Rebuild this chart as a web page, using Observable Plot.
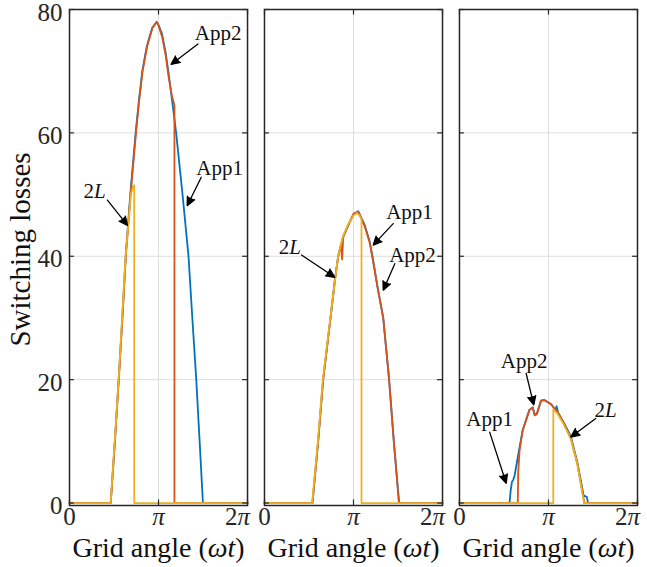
<!DOCTYPE html>
<html>
<head>
<meta charset="utf-8">
<script src="https://cdn.jsdelivr.net/npm/d3@7"></script>
<script src="https://cdn.jsdelivr.net/npm/@observablehq/plot@0.6"></script>
<style>
  html, body { margin: 0; padding: 0; background: #fff; }
  #chart { width: 647px; height: 567px; }
</style>
</head>
<body>
<div id="chart"></div>
<script>
// ---- categories / tick labels ----
const panels = [1, 2, 3];
const seriesNames = ["App1", "App2", "2L"];
const seriesColors = ["#0072BD", "#D95319", "#EDB120"];
const xTickValues = [0, 1, 2];          // grid angle in multiples of π
const xTickLabels = ["0", "π", "2π"];
const yTickValues = [0, 20, 40, 60, 80];
const yGridValues = [20, 40, 60];
const xAxisLabel = "Grid angle (ωt)";
const yAxisLabel = "Switching losses";

// ---- series values: [angle / π, switching losses] ----
const app1Panel1 = [[0,0],[0.463,0],[0.51,10],[0.552,20],[0.593,30],[0.631,40],[0.683,50],[0.743,60],[0.778,65],[0.818,70],[0.868,74],[0.928,77],[0.98,78],[1.0,77.5],[1.04,76],[1.08,73],[1.11,70],[1.155,65],[1.198,60],[1.27,50],[1.337,40],[1.38,30],[1.424,20],[1.462,10],[1.499,0],[2,0]];
const app2Panel1 = [[0,0],[0.463,0],[0.51,10],[0.554,20],[0.595,30],[0.633,40],[0.686,50],[0.747,60],[0.781,65],[0.821,70],[0.872,74],[0.932,77],[0.98,78],[1.0,77.4],[1.04,75.6],[1.08,72.6],[1.11,69.4],[1.15,66],[1.179,64.5],[1.179,0],[2,0]];
const l2Panel1   = [[0,0],[0.462,0],[0.508,10],[0.552,20],[0.63,40],[0.69,50],[0.716,51.5],[0.727,51.5],[0.727,0],[2,0]];

const app1Panel2 = [[0,0],[0.539,0],[0.603,10],[0.659,20],[0.742,30],[0.79,36],[0.828,40],[0.865,42],[0.88,43],[0.94,45],[1.0,46.8],[1.053,47.3],[1.08,46.5],[1.127,45],[1.18,42.5],[1.213,40],[1.27,35],[1.334,30],[1.40,20],[1.453,10],[1.513,0],[2,0]];
const app2Panel2 = [[0,0],[0.539,0],[0.603,10],[0.659,20],[0.742,30],[0.79,36],[0.828,40],[0.86,42],[0.872,39.5],[0.885,43.2],[0.94,45],[1.0,46.9],[1.053,47.2],[1.08,46.4],[1.127,44.8],[1.18,42.3],[1.213,39.8],[1.27,35],[1.334,30],[1.40,20],[1.453,10],[1.51,0],[2,0]];
const l2Panel2   = [[0,0],[0.535,0],[0.60,10],[0.655,20],[0.74,30],[0.826,40],[0.88,43.2],[0.94,45.2],[1.0,46.6],[1.04,47],[1.07,46.6],[1.09,46],[1.09,0],[2,0]];

const app1Panel3 = [[0,0],[0.562,0],[0.575,2],[0.589,3.4],[0.605,3.8],[0.62,4.5],[0.656,7.5],[0.71,11.8],[0.786,15.1],[0.823,15.5],[0.845,14.3],[0.87,14.5],[0.916,16.6],[0.953,16.7],[1.03,16.0],[1.08,15.0],[1.09,15.7],[1.11,14.6],[1.177,12.9],[1.251,10.8],[1.326,6.5],[1.395,1.2],[1.43,1.0],[1.445,0],[2,0]];
const app2Panel3 = [[0,0],[0.655,0],[0.66,5],[0.675,8.5],[0.71,11.8],[0.786,15.1],[0.823,15.5],[0.845,14.2],[0.87,14.4],[0.916,16.6],[0.953,16.7],[1.03,16.0],[1.10,14.8],[1.177,12.8],[1.251,10.5],[1.326,6.2],[1.40,0.3],[1.40,0],[2,0]];
const l2Panel3   = [[0,0],[1.054,0],[1.054,15.2],[1.10,14.5],[1.177,12.6],[1.251,10.4],[1.326,6.2],[1.40,0],[2,0]];

// ---- annotations ----
const annotPanel  = [1, 1, 1, 2, 2, 2, 3, 3, 3];
const annotLabels = ["App2", "App1", "2L", "App1", "App2", "2L", "App2", "App1", "2L"];
const annotTextX  = [1.669, 1.687, 0.282, 1.629, 1.663, 0.284, 0.726, 0.339, 1.642];
const annotTextY  = [76.2, 54.3, 50.5, 47.1, 40.2, 41.5, 22.9, 13.6, 15.1];
const arrowFromX  = [1.443, 1.480, 0.426, 1.446, 1.464, 0.416, 0.749, 0.339, 1.531];
const arrowFromY  = [74.4, 52.8, 49.1, 45.3, 38.8, 40.2, 21.0, 11.5, 13.7];
const arrowToX    = [1.141, 1.322, 0.652, 1.221, 1.334, 0.790, 0.835, 0.525, 1.251];
const arrowToY    = [71.1, 48.2, 45.0, 41.8, 34.5, 36.6, 15.9, 3.2, 10.7];

// ---- build tables ----
const seriesByPanel = [
  [app1Panel1, app2Panel1, l2Panel1],
  [app1Panel2, app2Panel2, l2Panel2],
  [app1Panel3, app2Panel3, l2Panel3]
];
const rows = [];
seriesByPanel.forEach((list, pi) => {
  list.forEach((pts, si) => {
    pts.forEach(([x, y]) => rows.push({panel: panels[pi], series: seriesNames[si], x, y}));
  });
});
const annots = annotLabels.map((label, i) => ({
  panel: annotPanel[i], label,
  tx: annotTextX[i], ty: annotTextY[i],
  x1: arrowFromX[i], y1: arrowFromY[i], x2: arrowToX[i], y2: arrowToY[i]
}));

const frameColor = "#262626";
const gridColor = "#dedede";

const chart = Plot.plot({
  width: 647,
  height: 567,
  marginLeft: 69,
  marginRight: 10,
  marginTop: 9,
  marginBottom: 62,
  style: {fontFamily: "'Liberation Serif', 'DejaVu Serif', serif", background: "#fff", color: frameColor},
  fx: {domain: panels, paddingInner: 0.087, paddingOuter: 0, round: false, axis: null, label: null},
  x: {domain: [0, 2]},
  y: {domain: [-0.4, 80]},
  color: {domain: seriesNames, range: seriesColors},
  marks: [
    Plot.gridY(yGridValues, {stroke: gridColor, strokeOpacity: 1, strokeWidth: 1}),
    Plot.gridX([1], {stroke: gridColor, strokeOpacity: 1, strokeWidth: 1}),
    Plot.line(rows, {fx: "panel", x: "x", y: "y", z: "series", stroke: "series", strokeWidth: 1.8, strokeLinejoin: "round"}),
    Plot.frame({stroke: frameColor, strokeWidth: 1.5}),
    // inward ticks (left/right and bottom/top)
    Plot.ruleY(yTickValues, {x1: 0, x2: 0.055, stroke: frameColor, strokeWidth: 1.2}),
    Plot.ruleY(yTickValues, {x1: 1.945, x2: 2, stroke: frameColor, strokeWidth: 1.2}),
    Plot.ruleX(xTickValues, {y1: -0.4, y2: 0.5, stroke: frameColor, strokeWidth: 1.2}),
    Plot.ruleX(xTickValues, {y1: 79.1, y2: 80, stroke: frameColor, strokeWidth: 1.2}),
    Plot.axisY(yTickValues, {tickSize: 0, tickPadding: 7, fontSize: 25, dy: 3, label: null, tickFormat: d => String(d)}),
    Plot.axisX(xTickValues, {tickSize: 0, tickPadding: 2, fontSize: 25, label: null, tickFormat: d => xTickLabels[xTickValues.indexOf(d)]}),
    Plot.text(panels, {fx: d => d, frameAnchor: "bottom", dy: 51, text: () => xAxisLabel, fontSize: 28, fill: "#111"}),
    Plot.text([yAxisLabel], {fx: () => panels[0], frameAnchor: "left", textAnchor: "middle", rotate: -90, dx: -49, dy: -8, text: d => d, fontSize: 29, fill: "#111"}),
    Plot.arrow(annots, {fx: "panel", x1: "x1", y1: "y1", x2: "x2", y2: "y2", stroke: "#000", fill: "#000", strokeWidth: 1.3, headLength: 11, headAngle: 50}),
    Plot.text(annots, {fx: "panel", x: "tx", y: "ty", text: "label", fontSize: 21, fill: "#111"})
  ]
});

// italic math symbols as in LaTeX; the 2π tick label sits left of its tick as in the original
const italicRules = {"Grid angle (ωt)": /(ωt)/, "2L": /(L)/, "π": /(π)/, "2π": /(π)/};
chart.querySelectorAll("text").forEach(t => {
  if (t.querySelector("tspan")) return;
  const s = t.textContent;
  if (s === "2π") t.setAttribute("dx", "-10");
  const re = italicRules[s];
  if (!re) return;
  const parts = s.split(re);
  t.textContent = "";
  parts.forEach((p, i) => {
    if (!p) return;
    const ts = document.createElementNS("http://www.w3.org/2000/svg", "tspan");
    ts.textContent = p;
    if (i % 2 === 1) ts.setAttribute("font-style", "italic");
    t.appendChild(ts);
  });
});

document.getElementById("chart").appendChild(chart);
</script>
</body>
</html>
